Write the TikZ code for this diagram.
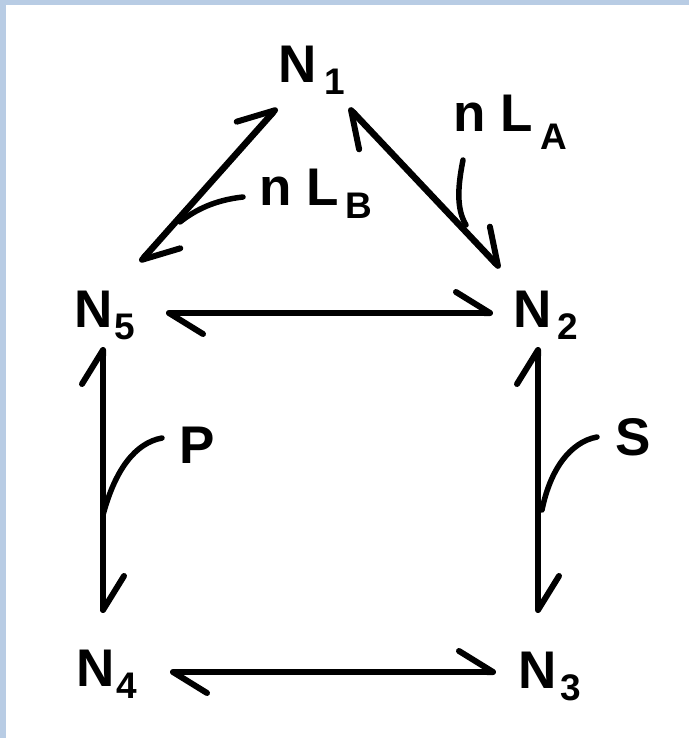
\documentclass[tikz,border=0pt]{standalone}
\usepackage{fontspec}
\setmainfont{Liberation Sans}
\usetikzlibrary{arrows.meta}
\definecolor{frameblue}{RGB}{184,204,228}
\newcommand{\bigf}{\fontsize{53}{53}\selectfont\bfseries}
\newcommand{\subf}{\fontsize{37}{37}\selectfont\bfseries}
\newcommand{\spc}[3]{#1\kern#3pt\raisebox{-12pt}{\subf #2}}
\begin{document}
\begin{tikzpicture}[x=1pt,y=-1pt,
  lab/.style={inner sep=0pt, anchor=base west, font=\bigf},
  barb/.tip={Straight Barb[harpoon,length=34pt,width=42pt,line width=6pt,round]},
  react/.style={line width=6.5pt, line cap=round, line join=round, barb-barb},
  ptr/.style={line width=5.5pt, line cap=round}]
\useasboundingbox (0,0) rectangle (689,738);
\fill[frameblue] (0,0) rectangle (689,738);
\fill[white] (6,5) rectangle (689,738);
% nodes
\node[lab] (N1) at (278,83) {\spc{N}{1}{8}};
\node[lab] (N5) at (74,327) {\spc{N}{5}{2}};
\node[lab] (N2) at (513,327) {\spc{N}{2}{6}};
\node[lab] (N4) at (76,686) {\spc{N}{4}{2}};
\node[lab] (N3) at (518,688) {\spc{N}{3}{4}};
\node[lab] (LA) at (453,132) {n L\kern8pt\raisebox{-18pt}{\subf A}};
\node[lab] (LB) at (259,205) {n L\kern7pt\raisebox{-13pt}{\subf B}};
\node[lab] (P) at (179,463) {P};
\node[lab] (S) at (615,455) {S};
% connector ends
\coordinate (a51) at (140,262); \coordinate (a15) at (277,108);
\coordinate (a21) at (500,268); \coordinate (a12) at (349,108);
\coordinate (a52) at (166,313); \coordinate (a25) at (493,313);
\coordinate (a54) at (103,347); \coordinate (a45) at (103,613);
\coordinate (a23) at (538,347); \coordinate (a32) at (538,613);
\coordinate (a43) at (170,672); \coordinate (a34) at (496,672);
\draw[react] (a51) -- (a15);
\draw[react] (a21) -- (a12);
\draw[react] (a52) -- (a25);
\draw[react] (a54) -- (a45);
\draw[react] (a23) -- (a32);
\draw[react] (a43) -- (a34);
% pointers
\coordinate (pA) at (463,160); \coordinate (qA) at (466,225);
\coordinate (pB) at (243,197); \coordinate (qB) at (180,222);
\coordinate (pP) at (162,438); \coordinate (qP) at (103,515);
\coordinate (pS) at (597,437); \coordinate (qS) at (542,510);
\draw[ptr] (pA) .. controls (457,190) and (457,210) .. (qA);
\draw[ptr] (pB) .. controls (215,200) and (195,210) .. (qB);
\draw[ptr] (pP) .. controls (135,443) and (115,470) .. (qP);
\draw[ptr] (pS) .. controls (570,442) and (550,470) .. (qS);
\end{tikzpicture}
\end{document}
